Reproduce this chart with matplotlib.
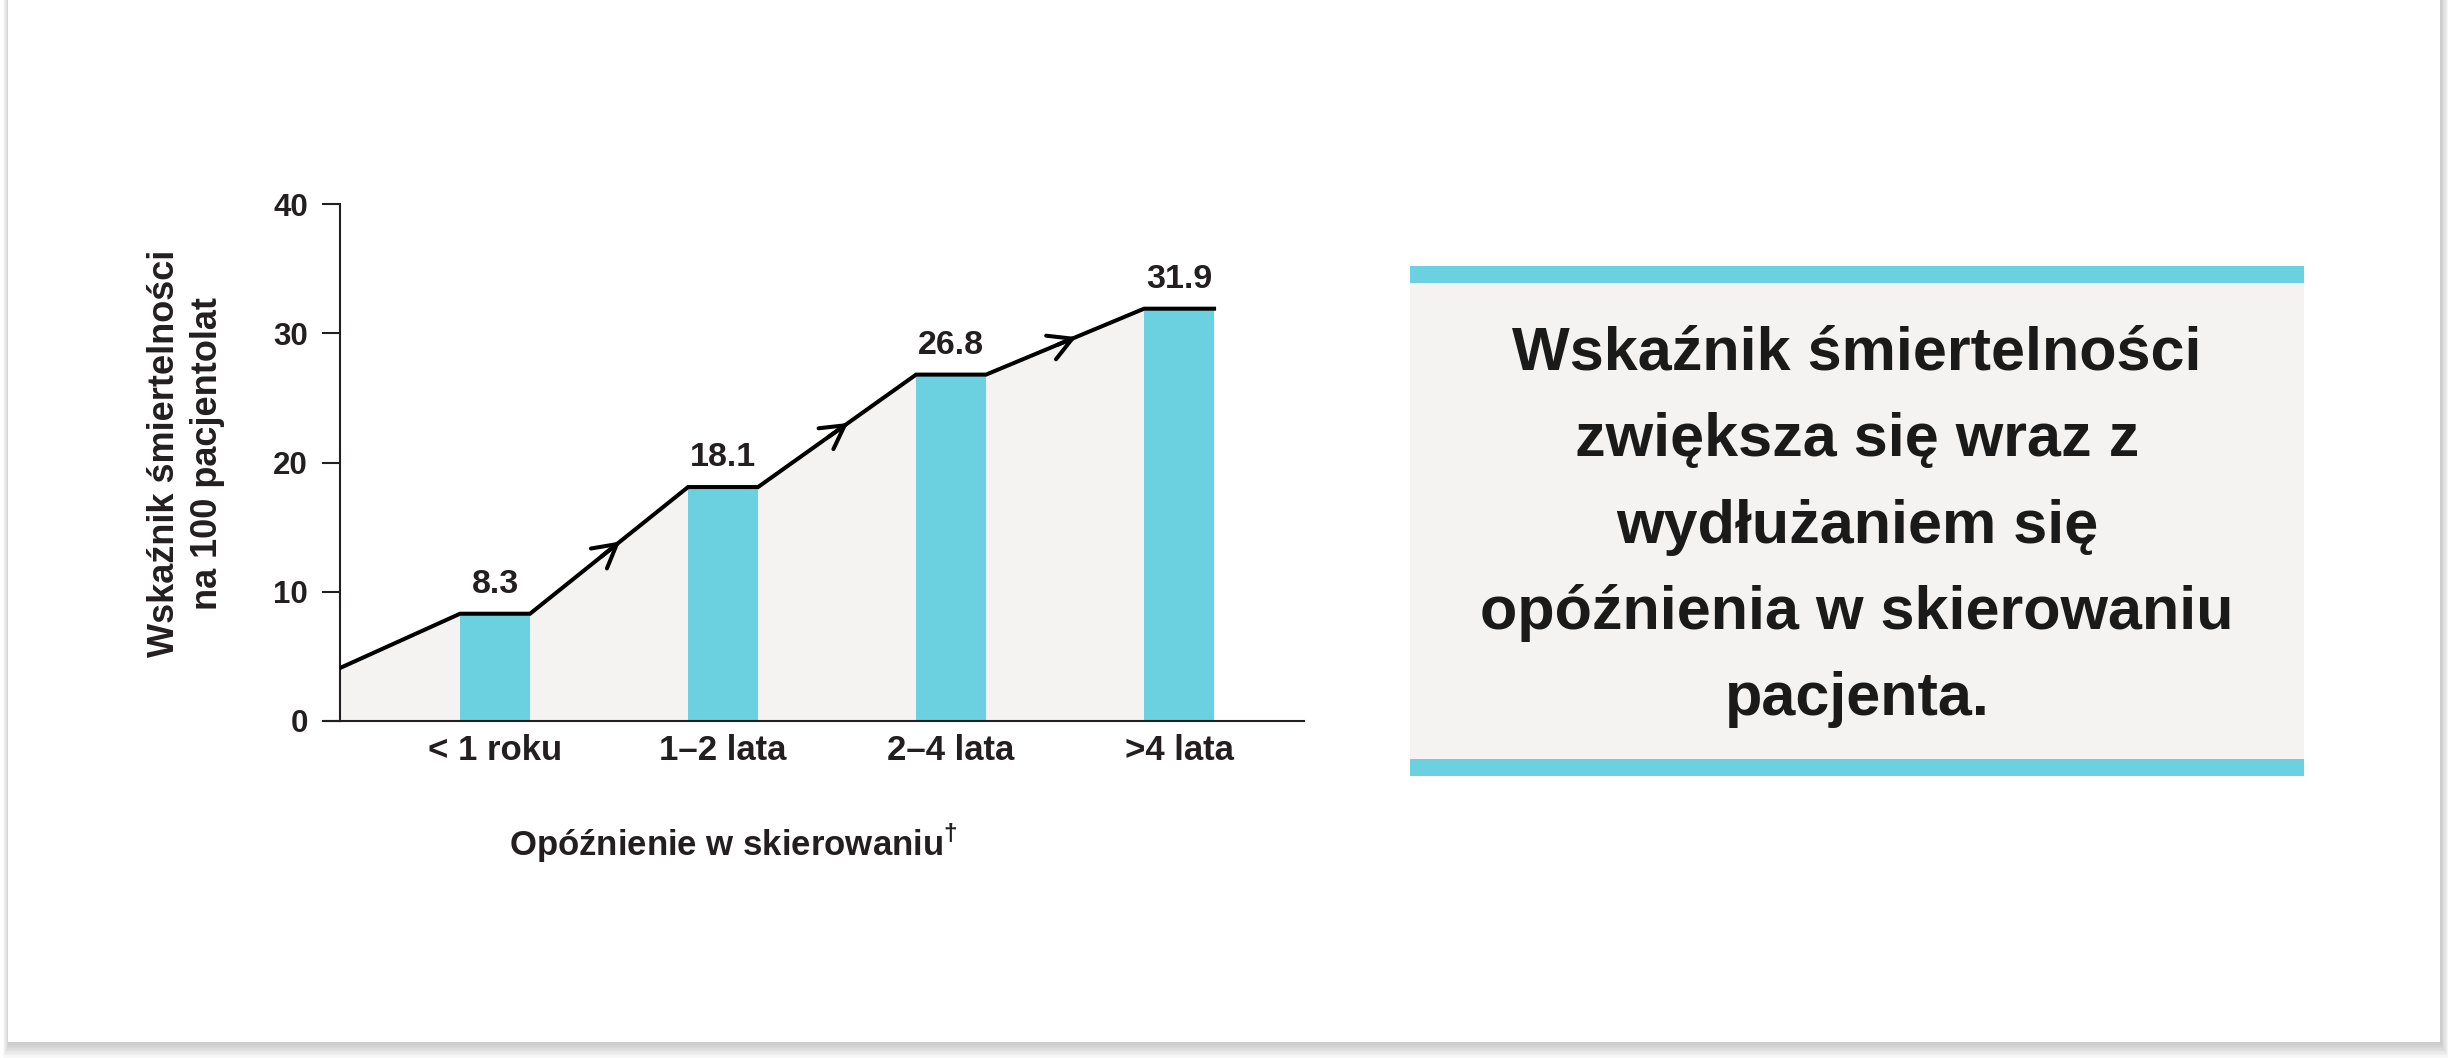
import matplotlib
matplotlib.use('Agg')
import matplotlib.pyplot as plt
from matplotlib.patches import Rectangle
import numpy as np

plt.rcParams['font.family'] = ['Liberation Sans', 'DejaVu Sans']
plt.rcParams['mathtext.fontset'] = 'custom'
plt.rcParams['mathtext.rm'] = 'Liberation Sans:bold'
plt.rcParams['mathtext.bf'] = 'Liberation Sans:bold'

# data
categories = ['< 1 roku', '1–2 lata', '2–4 lata', '>4 lata']
rates = [8.3, 18.1, 26.8, 31.9]
start_rate = 4.1
y_ticks = [0, 10, 20, 30, 40]
y_label = 'Wskaźnik śmiertelności\nna 100 pacjentolat'
x_label = 'Opóźnienie w skierowaniu$^{†}$'
box_lines = ['Wskaźnik śmiertelności', 'zwiększa się wraz z', 'wydłużaniem się',
             'opóźnienia w skierowaniu', 'pacjenta.']

TEAL = '#6bd1e1'
GRAY = '#f4f3f1'
INK = '#231f20'

W, H = 2448, 1058
fig = plt.figure(figsize=(W / 100, H / 100), dpi=100)
fig.patch.set_facecolor('white')


def box(x0, y0, x1, y1, **kw):
    # pixel box (top-left origin) -> figure rectangle
    r = Rectangle((x0 / W, 1 - y1 / H), (x1 - x0) / W, (y1 - y0) / H,
                  transform=fig.transFigure, **kw)
    fig.patches.append(r)
    return r


# card with soft shadow
for k in range(10, 0, -1):
    box(8 - k * 0.6 + 1, -20, 2440 + k * 0.8 + 1, 1042 + k * 1.4 + 2,
        facecolor='black', alpha=0.018, lw=0, zorder=-20)
box(8, -20, 2440, 1042, facecolor='white', lw=0, zorder=-10)

# main chart
ax = fig.add_axes([340 / W, 1 - 721 / H, (1304 - 340) / W, (721 - 204) / H])
ax.patch.set_alpha(0)
x = np.arange(len(categories))
bw = 0.307
xmin, xmax = -0.68, 3.548

px_ = [xmin]
py_ = [start_rate]
for xi, v in zip(x, rates):
    px_ += [xi - bw / 2, xi + bw / 2]
    py_ += [v, v]

ax.fill_between(px_, py_, 0, color=GRAY, lw=0, zorder=1)
ax.bar(x, rates, width=bw, color=TEAL, zorder=2)
ax.plot(px_, py_, color='black', lw=2.9, zorder=3,
        solid_joinstyle='miter', solid_capstyle='projecting')

for i in range(len(rates) - 1):
    x0, y0 = x[i] + bw / 2, rates[i]
    x1, y1 = x[i + 1] - bw / 2, rates[i + 1]
    tip = (x0 + 0.57 * (x1 - x0), y0 + 0.57 * (y1 - y0))
    tail = (x0 + 0.45 * (x1 - x0), y0 + 0.45 * (y1 - y0))
    ax.annotate('', xy=tip, xytext=tail, zorder=4,
                arrowprops=dict(arrowstyle='->,head_length=0.72,head_width=0.4',
                                color='black', lw=2.9, mutation_scale=23,
                                shrinkA=0, shrinkB=0))

for xi, v in zip(x, rates):
    ax.annotate(f'{v}', (xi, v), xytext=(0, 15), textcoords='offset points',
                ha='center', va='baseline', fontsize=24.5, fontweight='bold',
                color=INK)

ax.set_xlim(xmin, xmax)
ax.set_ylim(0, 40)
ax.set_yticks(y_ticks)
ax.set_xticks(x)
ax.set_xticklabels(categories)
for s in ['top', 'right']:
    ax.spines[s].set_visible(False)
for s in ['left', 'bottom']:
    ax.spines[s].set_color(INK)
    ax.spines[s].set_linewidth(1.5)
ax.plot([-0.016, 0], [0, 0], transform=ax.transAxes, color=INK, lw=1.5,
        clip_on=False)
ax.tick_params(axis='y', length=13, width=1.5, pad=10, labelsize=22.5,
               colors=INK)
ax.tick_params(axis='x', length=0, pad=9, labelsize=25, colors=INK)
for lab in ax.get_xticklabels() + ax.get_yticklabels():
    lab.set_fontweight('bold')

fig.text(186 / W, 1 - 453 / H, y_label, rotation=90, ha='center', va='center',
         fontsize=26, fontweight='bold', color=INK, linespacing=1.3)
fig.text(733 / W, 1 - 856 / H, x_label, ha='center', va='baseline',
         fontsize=25, fontweight='bold', color=INK)

# side box
box(1410, 266, 2304, 776, facecolor=GRAY, lw=0, zorder=-5)
box(1410, 266, 2304, 283, facecolor=TEAL, lw=0, zorder=-4)
box(1410, 759, 2304, 776, facecolor=TEAL, lw=0, zorder=-4)
baselines = [370, 456.5, 543, 629, 715]
for line, yb in zip(box_lines, baselines):
    fig.text(1857 / W, 1 - yb / H, line, ha='center', va='baseline',
             fontsize=44, fontweight='bold', color='#1a1a1a')

plt.savefig('out.png', dpi=100)
